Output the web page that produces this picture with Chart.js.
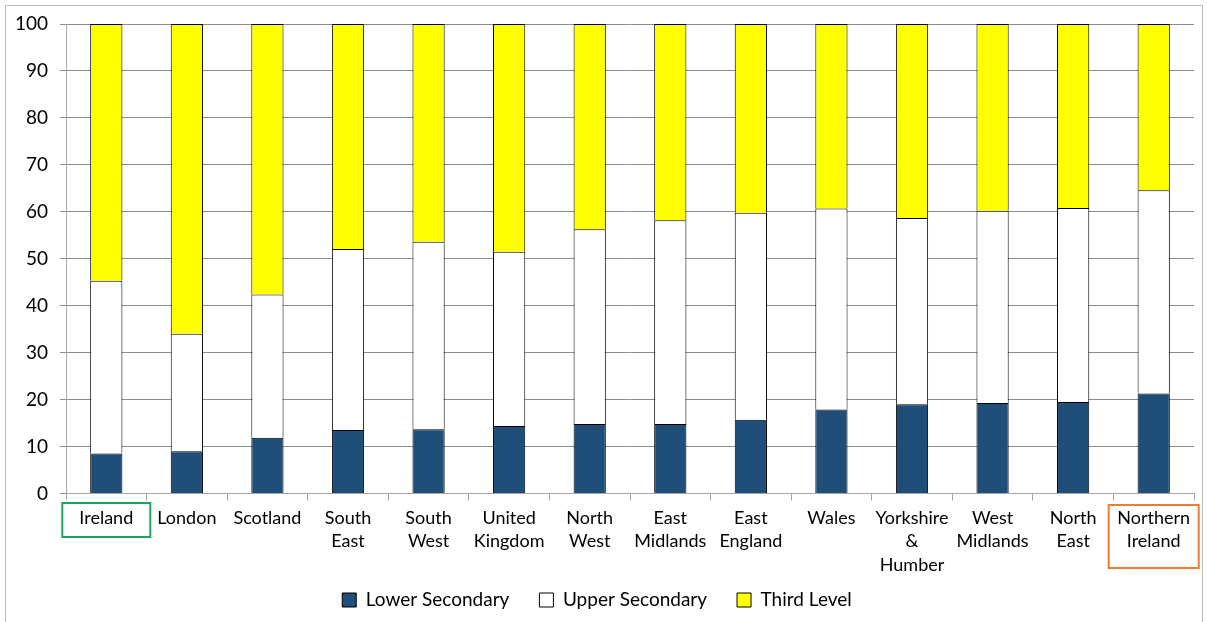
<!DOCTYPE html>
<html>
<head>
<meta charset="utf-8">
<script src="https://cdn.jsdelivr.net/npm/chart.js@4"></script>
<style>
  html, body { margin: 0; padding: 0; background: #fff; }
  #frame { position: absolute; left: 5px; top: 5px; width: 1196px; height: 640px; border: 1px solid #bdbdbd; }
  #wrap { position: absolute; left: 0; top: 0; width: 1207px; height: 622px; }
</style>
</head>
<body>
<div id="frame"></div>
<div id="wrap"><canvas id="grafico" width="1207" height="622"></canvas></div>
<script>
// regions, ordered as in the source chart
const regioes = ['Ireland', 'London', 'Scotland', ['South', 'East'], ['South', 'West'], ['United', 'Kingdom'],
  ['North', 'West'], ['East', 'Midlands'], ['East', 'England'], 'Wales', ['Yorkshire', '&', 'Humber'],
  ['West', 'Midlands'], ['North', 'East'], ['Northern', 'Ireland']];

// percentages
const lowerSecondary = [8.5, 9.0, 11.9, 13.5, 13.7, 14.4, 14.8, 14.8, 15.7, 17.9, 19.0, 19.3, 19.5, 21.3];
const upperSecondary = [36.8, 25.0, 30.5, 38.6, 39.9, 37.1, 41.5, 43.4, 44.1, 42.8, 39.7, 40.9, 41.3, 43.3];
const thirdLevel = [54.7, 66.0, 57.6, 47.9, 46.4, 48.5, 43.7, 41.8, 40.2, 39.3, 41.3, 39.8, 39.2, 35.4];

const yTicks = [0, 10, 20, 30, 40, 50, 60, 70, 80, 90, 100];

const fonte = "Lato, 'Liberation Sans', sans-serif";

// boxes drawn round two of the category labels
const destaques = [
  { index: 0, cor: '#19a55a', w: 88, top: 503, h: 34 },
  { index: 13, cor: '#ed7d31', w: 90, top: 505, h: 63 }
];

const boxPlugin = {
  id: 'boxPlugin',
  beforeDraw(chart) {
    // let the 3-line labels run past the axis box instead of being clipped
    chart.scales.x._computeLabelArea = () => undefined;
  },
  afterDraw(chart) {
    const ctx = chart.ctx;
    const x = chart.scales.x;
    ctx.save();
    destaques.forEach(d => {
      const cx = x.getPixelForValue(d.index);
      ctx.strokeStyle = d.cor;
      ctx.lineWidth = 2;
      ctx.strokeRect(cx - d.w / 2, d.top, d.w, d.h);
    });
    ctx.restore();
  }
};

const ctx = document.getElementById('grafico').getContext('2d');
new Chart(ctx, {
  type: 'bar',
  data: {
    labels: regioes,
    datasets: [
      { label: 'Lower Secondary', data: lowerSecondary, backgroundColor: '#1f4e79', borderColor: '#000', borderWidth: 1 },
      { label: 'Upper Secondary', data: upperSecondary, backgroundColor: '#ffffff', borderColor: '#000', borderWidth: 1 },
      { label: 'Third Level', data: thirdLevel, backgroundColor: '#ffff00', borderColor: '#000', borderWidth: 1 }
    ]
  },
  options: {
    responsive: false,
    animation: false,
    layout: { padding: { top: 24, right: 13, left: 0, bottom: 2.5 } },
    datasets: { bar: { barPercentage: 0.4, categoryPercentage: 1 } },
    scales: {
      x: {
        stacked: true,
        grid: { offset: true, drawOnChartArea: false, color: '#a6a6a6', tickLength: 7 },
        border: { color: '#a6a6a6' },
        ticks: { color: '#000', font: { family: fonte, size: 18, lineHeight: 1.3 }, padding: 6, maxRotation: 0, autoSkip: false },
        afterFit: (s) => { s.height = 67; }
      },
      y: {
        stacked: true,
        min: 0,
        max: 100,
        afterBuildTicks: (s) => { s.ticks = yTicks.map(v => ({ value: v })); },
        grid: { color: '#8c8c8c', tickLength: 6 },
        border: { color: '#a6a6a6' },
        ticks: { color: '#000', font: { family: fonte, size: 19 }, padding: 12 },
        afterFit: (s) => { s.width = 66; }
      }
    },
    plugins: {
      legend: {
        position: 'bottom',
        labels: {
          color: '#000',
          font: { family: fonte, size: 19 },
          boxWidth: 14,
          boxHeight: 14,
          padding: 30,
          useBorderRadius: false
        }
      },
      tooltip: { enabled: false }
    }
  },
  plugins: [boxPlugin]
});
</script>
</body>
</html>
